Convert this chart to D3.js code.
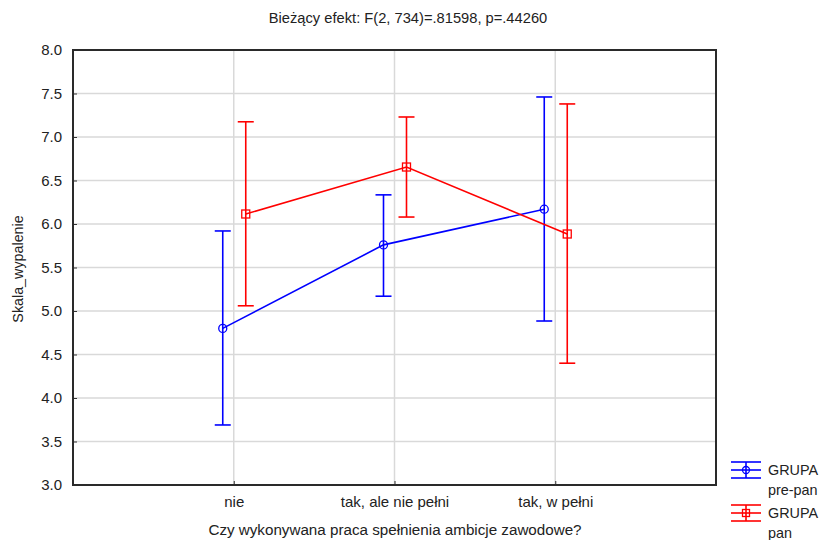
<!DOCTYPE html>
<html><head><meta charset="utf-8">
<script src="https://cdn.jsdelivr.net/npm/d3@7"></script>
<style>body{margin:0;background:#fff;} text{font-family:"Liberation Sans",Arial,sans-serif;}</style>
</head><body>
<svg id="c" width="821" height="540"></svg>
<script>
const categories = ["nie", "tak, ale nie pełni", "tak, w pełni"];
const yTicks = [3.0, 3.5, 4.0, 4.5, 5.0, 5.5, 6.0, 6.5, 7.0, 7.5, 8.0];
const prePanMean = [4.80, 5.76, 6.17];
const prePanLow  = [3.69, 5.17, 4.885];
const prePanHigh = [5.92, 6.335, 7.46];
const panMean = [6.115, 6.655, 5.885];
const panLow  = [5.06, 6.08, 4.40];
const panHigh = [7.175, 7.23, 7.38];
const seriesNames = [["GRUPA", "pre-pan"], ["GRUPA", "pan"]];
const title = "Bieżący efekt: F(2, 734)=.81598, p=.44260";
const xTitle = "Czy wykonywana praca spełnienia ambicje zawodowe?";
const yTitle = "Skala_wypalenie";

const svg = d3.select("#c");
const L = 73, R = 716, T = 50, B = 485;
const x = d3.scalePoint().domain(categories).range([L, R]).padding(1);
const y = d3.scaleLinear().domain([3, 8]).range([B, T]);

// grid
svg.append("g").selectAll("line").data(yTicks.slice(1, -1)).join("line")
  .attr("x1", L).attr("x2", R).attr("y1", d => y(d)).attr("y2", d => y(d))
  .attr("stroke", "#d9d9d9").attr("stroke-width", 1.5);
svg.append("g").selectAll("line").data(categories).join("line")
  .attr("x1", d => x(d)).attr("x2", d => x(d)).attr("y1", T).attr("y2", B)
  .attr("stroke", "#d9d9d9").attr("stroke-width", 1.5);

// axes
const yAxis = d3.axisLeft(y).tickValues(yTicks).tickFormat(d3.format(".1f")).tickSize(-4).tickPadding(11);
const gy = svg.append("g").attr("transform", `translate(${L},0)`).call(yAxis);
gy.select(".domain").remove();
gy.selectAll("text").attr("font-size", 15).attr("fill", "#222").attr("font-family", "Liberation Sans, Arial, sans-serif");
gy.selectAll("line").attr("stroke", "#333");

const xAxis = d3.axisBottom(x).tickSize(-4).tickPadding(11);
const gx = svg.append("g").attr("transform", `translate(0,${B})`).call(xAxis);
gx.select(".domain").remove();
gx.selectAll("text").attr("font-size", 15).attr("fill", "#222").attr("font-family", "Liberation Sans, Arial, sans-serif");
gx.selectAll("line").attr("stroke", "#333");

// frame
svg.append("rect").attr("x", L).attr("y", T).attr("width", R - L).attr("height", B - T)
  .attr("fill", "none").attr("stroke", "#2a2a2a").attr("stroke-width", 2);

// series
const series = [
  {mean: prePanMean, low: prePanLow, high: prePanHigh, color: "#0000ff", off: -11, marker: "circle"},
  {mean: panMean, low: panLow, high: panHigh, color: "#ff0000", off: 12, marker: "square"}
];
series.forEach(s => {
  const pts = categories.map((c, i) => ({x: x(c) + s.off, m: s.mean[i], lo: s.low[i], hi: s.high[i]}));
  const g = svg.append("g");
  g.append("path").datum(pts)
    .attr("d", d3.line().x(d => d.x).y(d => y(d.m)))
    .attr("fill", "none").attr("stroke", s.color).attr("stroke-width", 1.6);
  pts.forEach(p => {
    g.append("line").attr("x1", p.x).attr("x2", p.x).attr("y1", y(p.lo)).attr("y2", y(p.hi))
      .attr("stroke", s.color).attr("stroke-width", 1.6);
    [p.lo, p.hi].forEach(v => g.append("line").attr("x1", p.x - 8).attr("x2", p.x + 8)
      .attr("y1", y(v)).attr("y2", y(v)).attr("stroke", s.color).attr("stroke-width", 1.6));
    if (s.marker === "circle") {
      g.append("circle").attr("cx", p.x).attr("cy", y(p.m)).attr("r", 4)
        .attr("fill", "none").attr("stroke", s.color).attr("stroke-width", 1.3);
    } else {
      g.append("rect").attr("x", p.x - 4).attr("y", y(p.m) - 4).attr("width", 8).attr("height", 8)
        .attr("fill", "none").attr("stroke", s.color).attr("stroke-width", 1.3);
    }
  });
});

// legend
const legY = [470, 513];
series.forEach((s, i) => {
  const cy = legY[i], cx = 746;
  const g = svg.append("g");
  [-8, 0, 8].forEach(dy => g.append("line").attr("x1", cx - 15).attr("x2", cx + 15)
    .attr("y1", cy + dy).attr("y2", cy + dy).attr("stroke", s.color).attr("stroke-width", 1.6));
  g.append("line").attr("x1", cx).attr("x2", cx).attr("y1", cy - 8).attr("y2", cy + 8)
    .attr("stroke", s.color).attr("stroke-width", 1.6);
  if (s.marker === "circle") g.append("circle").attr("cx", cx).attr("cy", cy).attr("r", 3.5)
    .attr("fill", "none").attr("stroke", s.color).attr("stroke-width", 1.3);
  else g.append("rect").attr("x", cx - 3.5).attr("y", cy - 3.5).attr("width", 7).attr("height", 7)
    .attr("fill", "none").attr("stroke", s.color).attr("stroke-width", 1.3);
  g.append("text").attr("x", 768).attr("y", cy + 5).attr("font-size", 14.4).attr("fill", "#222").text(seriesNames[i][0]);
  g.append("text").attr("x", 768).attr("y", cy + 25).attr("font-size", 14.4).attr("fill", "#222").text(seriesNames[i][1]);
});

// titles
svg.append("text").attr("x", 408).attr("y", 23).attr("text-anchor", "middle").attr("font-size", 14.7).attr("fill", "#222").text(title);
svg.append("text").attr("x", 395).attr("y", 535).attr("text-anchor", "middle").attr("font-size", 15.2).attr("fill", "#222").text(xTitle);
svg.append("text").attr("transform", "translate(23,269) rotate(-90)").attr("text-anchor", "middle").attr("font-size", 14.3).attr("fill", "#222").text(yTitle);
</script>
</body></html>
